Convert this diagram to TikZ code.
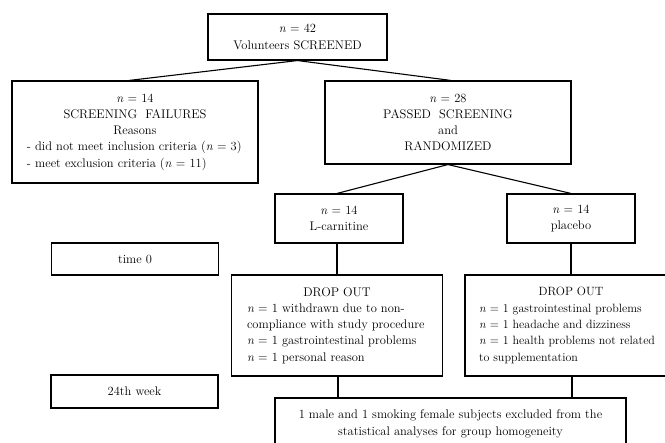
\documentclass[tikz,border=0pt]{standalone}
\usepackage{tikz}
\newcommand{\LeftLine}[2]{\makebox[#1][l]{#2}}
\newcommand{\nn}{\textit{n}}
\begin{document}
\begin{tikzpicture}[x=1pt,y=-1pt,
  box/.style={draw, line width=1.1pt, align=center, inner sep=0pt,
    font=\fontsize{12.5}{16.3}\selectfont},
  conn/.style={line width=1.1pt}]
\useasboundingbox (0,0) rectangle (665,443);
\fill[white] (0,0) rectangle (665,443);
\node[box, minimum width=179pt, minimum height=46pt] (top) at (297.5,37)
  {\nn{} = 42\\Volunteers SCREENED};
\node[box, minimum width=246pt, minimum height=102pt] (fail) at (135,132)
  {\nn{} = 14\\SCREENING\ \ FAILURES\\Reasons\\
   \LeftLine{216pt}{- did not meet inclusion criteria (\nn{} = 3)}\\
   \LeftLine{216pt}{- meet exclusion criteria (\nn{} = 11)}};
\node[box, minimum width=246pt, minimum height=83pt] (pass) at (448,122.5)
  {\nn{} = 28\\PASSED\ \ SCREENING\\and\\RANDOMIZED};
\node[box, minimum width=128pt, minimum height=49pt] (carn) at (339,218.5)
  {\nn{} = 14\\L-carnitine};
\node[box, minimum width=128pt, minimum height=49pt] (plac) at (571,218.5)
  {\nn{} = 14\\placebo};
\node[box, minimum width=166.5pt, minimum height=32pt] (t0) at (135,259)
  {time 0};
\node[box, minimum width=210.5pt, minimum height=101pt] (dropL) at (337,325.5)
  {DROP OUT\\
   \LeftLine{180pt}{\nn{} = 1 withdrawn due to non-}\\
   \LeftLine{180pt}{compliance with study procedure}\\
   \LeftLine{180pt}{\nn{} = 1 gastrointestinal problems}\\
   \LeftLine{180pt}{\nn{} = 1 personal reason}};
\node[box, minimum width=212pt, minimum height=101pt,
  font=\fontsize{12}{16.3}\selectfont] (dropR) at (571,325.5)
  {DROP OUT\\
   \LeftLine{184pt}{\nn{} = 1 gastrointestinal problems}\\
   \LeftLine{184pt}{\nn{} = 1 headache and dizziness}\\
   \LeftLine{184pt}{\nn{} = 1 health problems not related}\\
   \LeftLine{184pt}{to supplementation}};
\node[box, minimum width=167pt, minimum height=33pt] (w24) at (134.5,391.5)
  {24th week};
\node[box, minimum width=351pt, minimum height=52pt] (excl) at (450.5,424)
  {1 male and 1 smoking female subjects excluded from the\\
   statistical analyses for group homogeneity};
\draw[conn] (top.south) -- ([xshift=-6pt]fail.north);
\draw[conn] (top.south) -- ([xshift=3pt]pass.north);
\draw[conn] (pass.south) -- ([xshift=-2pt]carn.north);
\draw[conn] (pass.south) -- (plac.north);
\draw[conn] ([xshift=-2pt]carn.south) -- (dropL.north);
\draw[conn] (plac.south) -- (dropR.north);
\draw[conn] ([xshift=1pt]dropL.south) -- ([xshift=1pt]dropL.south |- excl.north);
\draw[conn] ([xshift=1pt]dropR.south) -- ([xshift=1pt]dropR.south |- excl.north);
\end{tikzpicture}
\end{document}
